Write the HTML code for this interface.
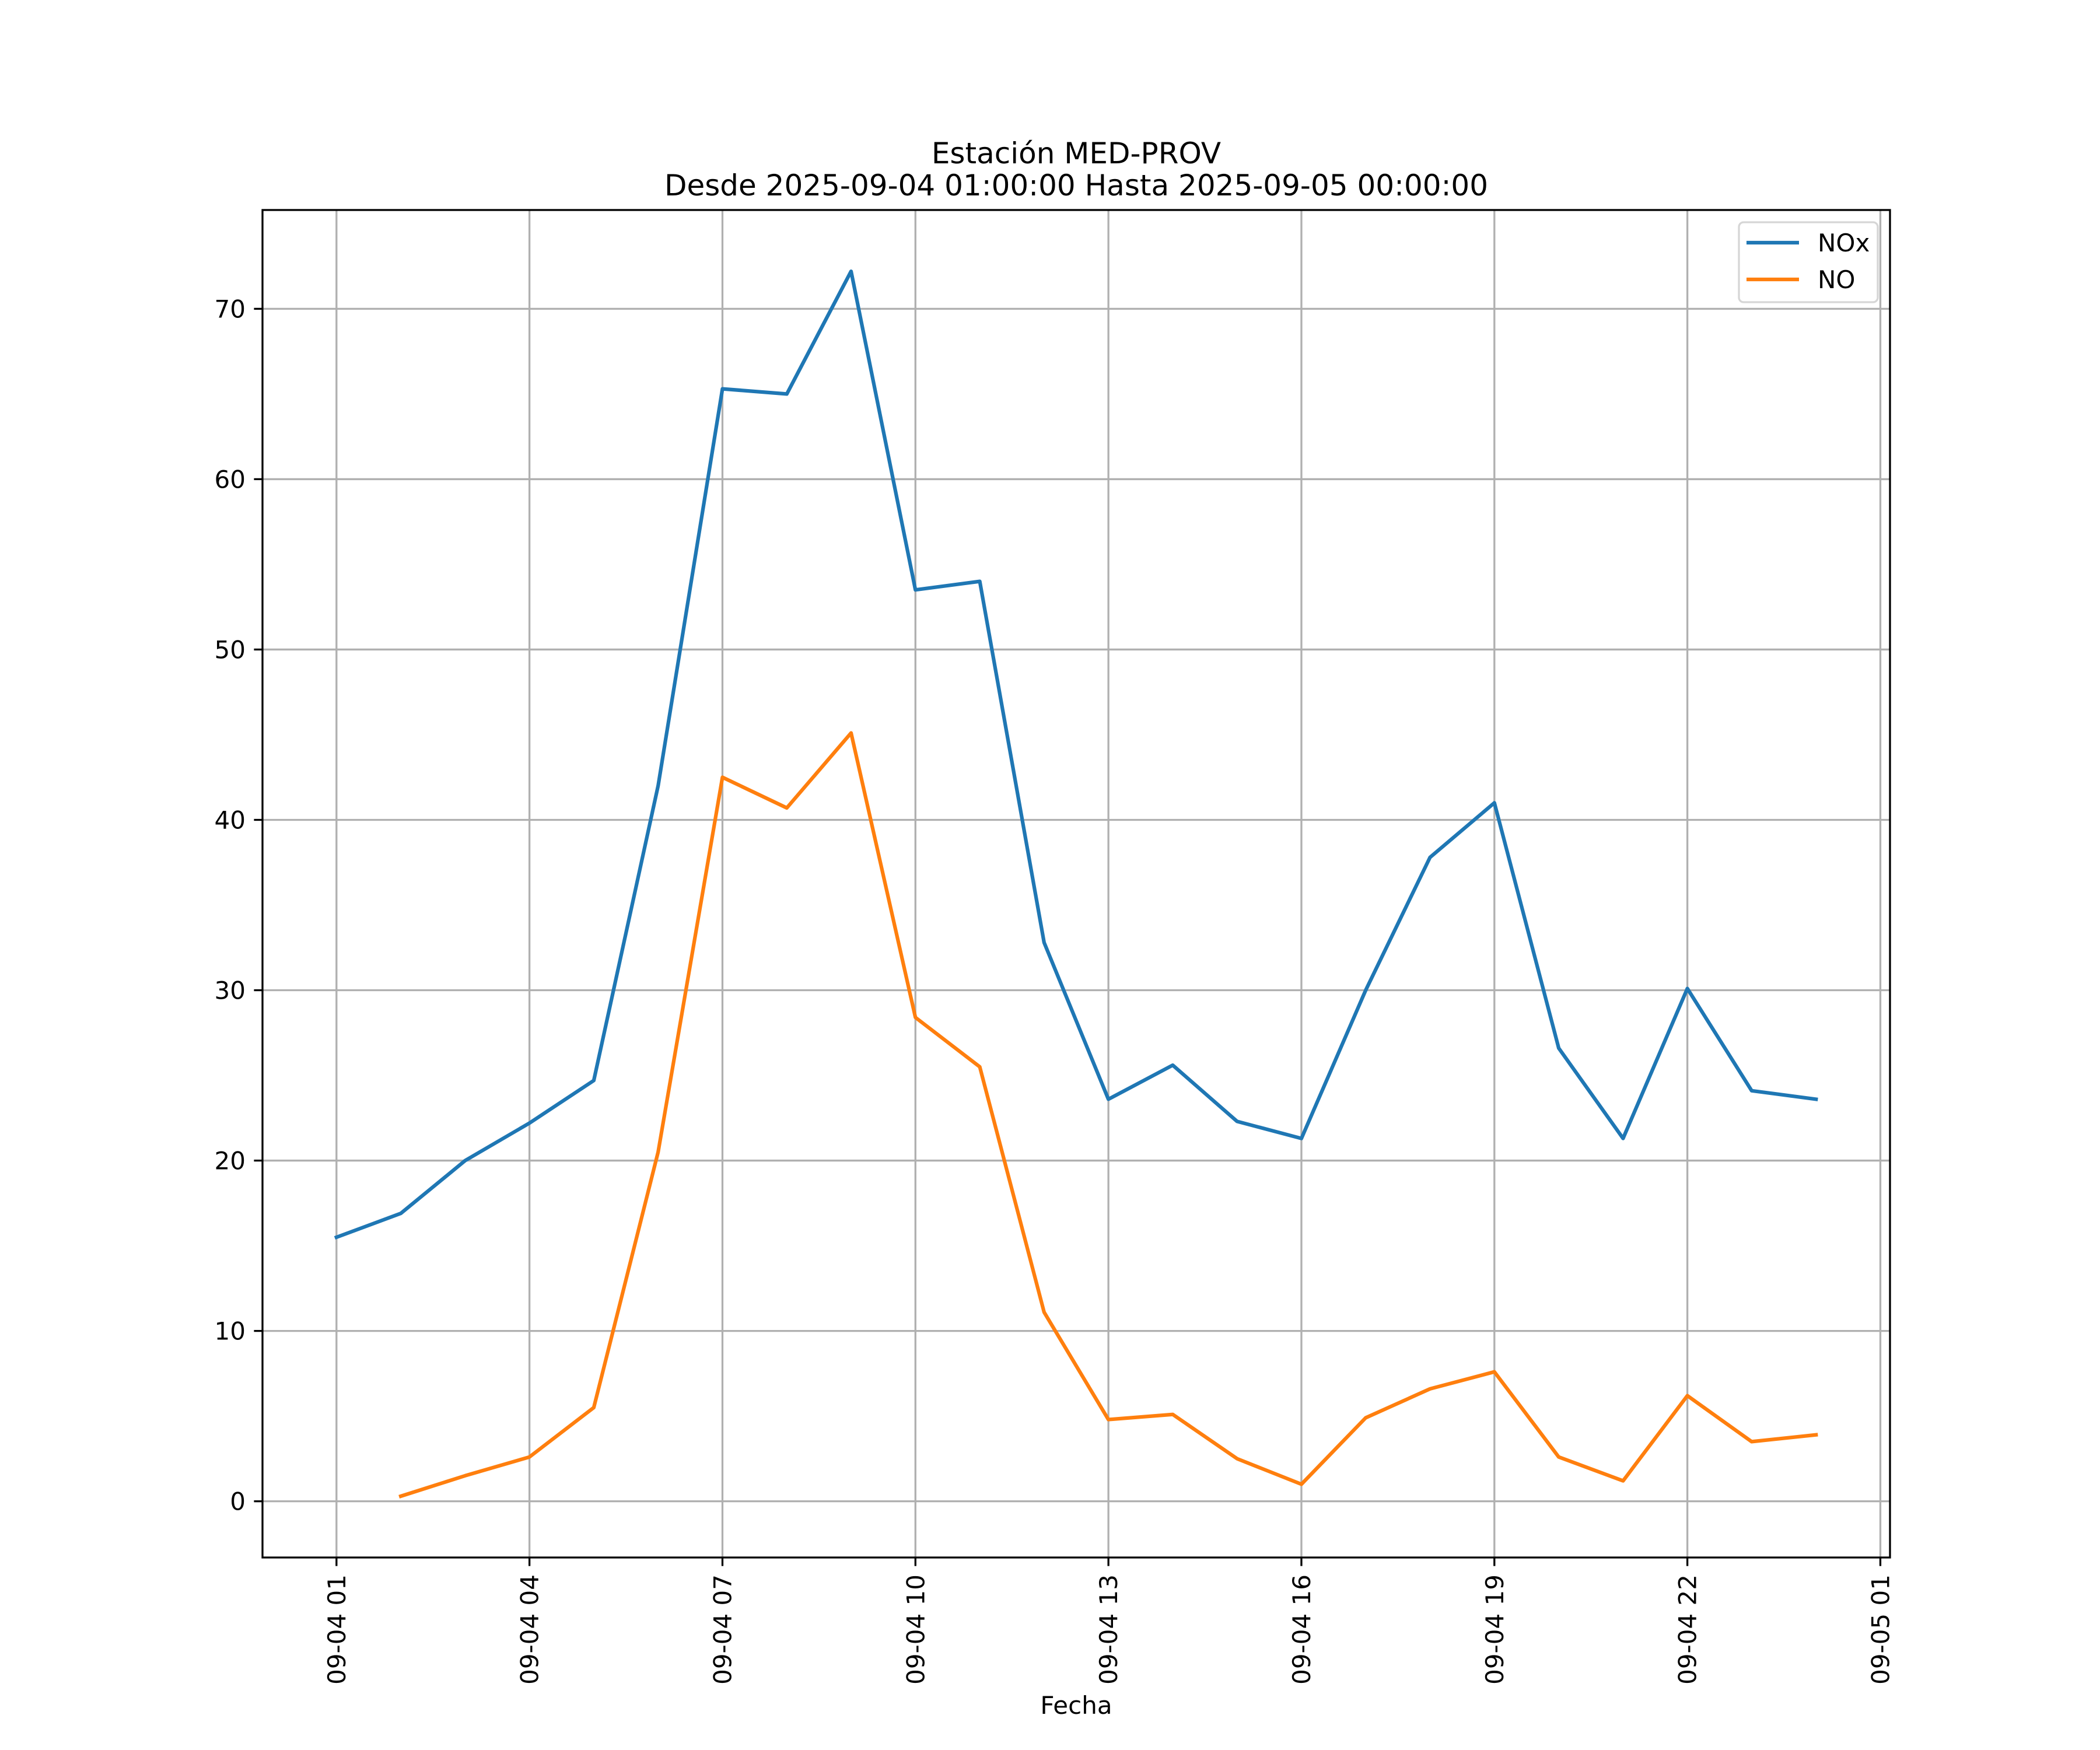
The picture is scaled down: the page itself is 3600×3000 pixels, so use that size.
<!DOCTYPE html>
<html><head><meta charset="utf-8"><style>
html,body{margin:0;padding:0;background:#fff;}
svg{display:block;font-family:"DejaVu Sans","Liberation Sans",sans-serif;}
</style></head><body>
<svg id="chart" width="3600" height="3000" viewBox="0 0 3600 3000" xmlns="http://www.w3.org/2000/svg">
<rect width="3600" height="3000" fill="#fff"/>
<text x="1845" y="280" font-size="50" text-anchor="middle">Estación MED-PROV</text>
<text x="1845" y="335" font-size="50" text-anchor="middle">Desde 2025-09-04 01:00:00 Hasta 2025-09-05 00:00:00</text>
<g id="grid"></g>
<g id="series"></g>
<rect x="450" y="360" width="2790" height="2310" fill="none" stroke="#000" stroke-width="3.3"/>
<g id="ticks"></g>
<text x="1845" y="2938" font-size="42" text-anchor="middle">Fecha</text>
<g>
<rect x="2981" y="381" width="238" height="137" rx="8" fill="#fff" fill-opacity="0.8" stroke="#d6d6d6" stroke-width="3.3"/>
<line x1="2994" y1="416" x2="3084" y2="416" stroke="#1f77b4" stroke-width="6.25"/>
<text x="3116" y="431" font-size="42">NOx</text>
<line x1="2994" y1="479" x2="3084" y2="479" stroke="#ff7f0e" stroke-width="6.25"/>
<text x="3116" y="494" font-size="42">NO</text>
</g>
</svg>
<script>
const hours = [1,2,3,4,5,6,7,8,9,10,11,12,13,14,15,16,17,18,19,20,21,22,23,24];
const noxValues = [15.5,16.9,20.0,22.2,24.7,42.0,65.3,65.0,72.2,53.5,54.0,32.8,23.6,25.6,22.3,21.3,30.0,37.8,41.0,26.6,21.3,30.1,24.1,23.6];
const noValues = [null,0.3,1.5,2.6,5.5,20.5,42.5,40.7,45.1,28.4,25.5,11.1,4.8,5.1,2.5,1.0,4.9,6.6,7.6,2.6,1.2,6.2,3.5,3.9];
const xTickHours = [1,4,7,10,13,16,19,22,25];
const xTickLabels = ["09-04 01","09-04 04","09-04 07","09-04 10","09-04 13","09-04 16","09-04 19","09-04 22","09-05 01"];
const yTicks = [0,10,20,30,40,50,60,70];

const L=450,R=3240,T=360,B=2670;
const XMIN=-0.15,XMAX=25.15,YMIN=-3.3,YMAX=75.8;
const NS="http://www.w3.org/2000/svg";
function xs(h){return L+(h-XMIN)/(XMAX-XMIN)*(R-L);}
function ys(v){return B-(v-YMIN)/(YMAX-YMIN)*(B-T);}
function mk(tag,attrs,parent){const e=document.createElementNS(NS,tag);for(const k in attrs)e.setAttribute(k,attrs[k]);parent.appendChild(e);return e;}
const grid=document.getElementById('grid'),ticks=document.getElementById('ticks'),series=document.getElementById('series');
xTickHours.forEach((h,i)=>{
  const x=xs(h);
  const g=mk('line',{x1:x,y1:T,x2:x,y2:B,stroke:'#b0b0b0','stroke-width':3.3},grid);
  
  
  const t=mk('line',{x1:x,y1:B,x2:x,y2:B+14.6,stroke:'#000','stroke-width':3.3},ticks);
  
  
  const lb=mk('text',{x:0,y:0,'font-size':42,'text-anchor':'end',transform:`translate(${x+15},${B+29}) rotate(-90)`},ticks);
  lb.textContent=xTickLabels[i];
  
  
});
yTicks.forEach(v=>{
  const y=ys(v);
  const g=mk('line',{x1:L,y1:y,x2:R,y2:y,stroke:'#b0b0b0','stroke-width':3.3},grid);
  
  
  const t=mk('line',{x1:L-14.6,y1:y,x2:L,y2:y,stroke:'#000','stroke-width':3.3},ticks);
  
  
  const lb=mk('text',{x:L-29,y:y+15,'font-size':42,'text-anchor':'end'},ticks);
  lb.textContent=String(v);
  
  
});
function path(vals){let d='',pen=false;vals.forEach((v,i)=>{if(v===null){pen=false;return;}d+=(pen?'L':'M')+xs(hours[i]).toFixed(1)+','+ys(v).toFixed(1);pen=true;});return d;}
const p1=mk('path',{d:path(noxValues),fill:'none',stroke:'#1f77b4','stroke-width':6.25,'stroke-linejoin':'round','stroke-linecap':'square'},series);


const p2=mk('path',{d:path(noValues),fill:'none',stroke:'#ff7f0e','stroke-width':6.25,'stroke-linejoin':'round','stroke-linecap':'square'},series);


</script>
</body></html>
